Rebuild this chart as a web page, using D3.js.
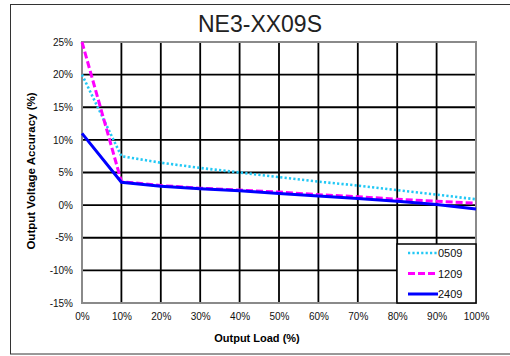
<!DOCTYPE html>
<html>
<head>
<meta charset="utf-8">
<script src="https://cdn.jsdelivr.net/npm/d3@7"></script>
<style>
  body { margin: 0; background: #fff; }
  text { font-family: Arial, "Liberation Sans", sans-serif; }
</style>
</head>
<body>
<div class="chart"></div>
<script>
// data
var loads = [0, 10, 20, 30, 40, 50, 60, 70, 80, 90, 100];
var s0509 = [20, 7.5, 6.5, 5.7, 5.0, 4.3, 3.6, 3.0, 2.3, 1.6, 0.9];
var s1209 = [25, 3.6, 3.0, 2.6, 2.3, 2.0, 1.6, 1.3, 0.9, 0.6, 0.3];
var s2409 = [11, 3.5, 2.9, 2.5, 2.2, 1.8, 1.4, 1.0, 0.6, 0.1, -0.6];
var yTicks = [-15, -10, -5, 0, 5, 10, 15, 20, 25];
var seriesNames = ["0509", "1209", "2409"];

var width = 510, height = 356;
var margin = { top: 42, right: 34, bottom: 53, left: 82 };

var svg = d3.select(".chart")
    .append("svg")
    .attr("width", width)
    .attr("height", height);

// outer frame
svg.append("rect")
    .attr("x", 10.5).attr("y", 4.5)
    .attr("width", 510).attr("height", 349.5)
    .attr("fill", "none").attr("stroke", "#333").attr("stroke-width", 1);

var x = d3.scaleLinear().domain([0, 100]).range([margin.left, width - margin.right]);
var y = d3.scaleLinear().domain([-15, 25]).range([height - margin.bottom, margin.top]);

// grid
var grid = svg.append("g");
grid.selectAll(".vg")
    .data(loads.slice(1, -1))
    .enter().append("line")
    .attr("x1", function (d) { return x(d); })
    .attr("x2", function (d) { return x(d); })
    .attr("y1", y(25)).attr("y2", y(-15))
    .attr("stroke", "#000").attr("stroke-width", 1.8);
grid.selectAll(".hg")
    .data(yTicks.slice(1, -1))
    .enter().append("line")
    .attr("x1", x(0)).attr("x2", x(100))
    .attr("y1", function (d) { return y(d); })
    .attr("y2", function (d) { return y(d); })
    .attr("stroke", "#000").attr("stroke-width", 1.8);

// plot border
svg.append("rect")
    .attr("x", x(0)).attr("y", y(25))
    .attr("width", x(100) - x(0)).attr("height", y(-15) - y(25))
    .attr("fill", "none").attr("stroke", "#8a8a8a").attr("stroke-width", 2);

// axes
var xAxis = d3.axisBottom(x).tickValues(loads)
    .tickFormat(function (d) { return d + "%"; }).tickSize(0).tickPadding(10);
var yAxis = d3.axisLeft(y).tickValues(yTicks)
    .tickFormat(function (d) { return d + "%"; }).tickSize(0).tickPadding(9);

svg.append("g")
    .attr("transform", "translate(0," + y(-15) + ")")
    .call(xAxis)
    .call(function (g) { g.select(".domain").remove(); })
    .selectAll("text").attr("font-size", 10).attr("fill", "#111")
    .style("font-family", "Arial, 'Liberation Sans', sans-serif");

svg.append("g")
    .attr("transform", "translate(" + x(0) + ",0)")
    .call(yAxis)
    .call(function (g) { g.select(".domain").remove(); })
    .selectAll("text").attr("font-size", 10).attr("fill", "#111")
    .style("font-family", "Arial, 'Liberation Sans', sans-serif");

// titles
svg.append("text")
    .attr("x", 260).attr("y", 32)
    .attr("text-anchor", "middle")
    .attr("font-size", 23).attr("fill", "#222")
    .text("NE3-XX09S");

svg.append("text")
    .attr("x", 257).attr("y", 342)
    .attr("text-anchor", "middle")
    .attr("font-size", 11).attr("font-weight", "bold")
    .text("Output Load (%)");

svg.append("text")
    .attr("transform", "translate(34.5,171) rotate(-90)")
    .attr("text-anchor", "middle")
    .attr("font-size", 11.5).attr("font-weight", "bold")
    .text("Output Voltage Accuracy (%)");

// series
var styles = [
    { color: "#22c8f5", width: 2.6, dash: "2.2,2.2" },
    { color: "#ff00ff", width: 3, dash: "7,3" },
    { color: "#0000ff", width: 3, dash: null }
];
var values = [s0509, s1209, s2409];

var line = d3.line()
    .x(function (d, i) { return x(loads[i]); })
    .y(function (d) { return y(d); });

values.forEach(function (v, k) {
    svg.append("path")
        .datum(v)
        .attr("d", line)
        .attr("fill", "none")
        .attr("stroke", styles[k].color)
        .attr("stroke-width", styles[k].width)
        .attr("stroke-dasharray", styles[k].dash);
});

// legend
var lg = svg.append("g").attr("transform", "translate(397,244)");
lg.append("rect")
    .attr("width", 79).attr("height", 59)
    .attr("fill", "#fff").attr("stroke", "#000").attr("stroke-width", 1.5);
seriesNames.forEach(function (name, k) {
    var yy = 9 + k * 20.5;
    lg.append("line")
        .attr("x1", 11).attr("x2", 41)
        .attr("y1", yy).attr("y2", yy)
        .attr("stroke", styles[k].color)
        .attr("stroke-width", styles[k].width)
        .attr("stroke-dasharray", styles[k].dash);
    lg.append("text")
        .attr("x", 41).attr("y", yy + 4)
        .attr("font-size", 11).attr("fill", "#111")
        .text(name);
});
</script>
</body>
</html>
